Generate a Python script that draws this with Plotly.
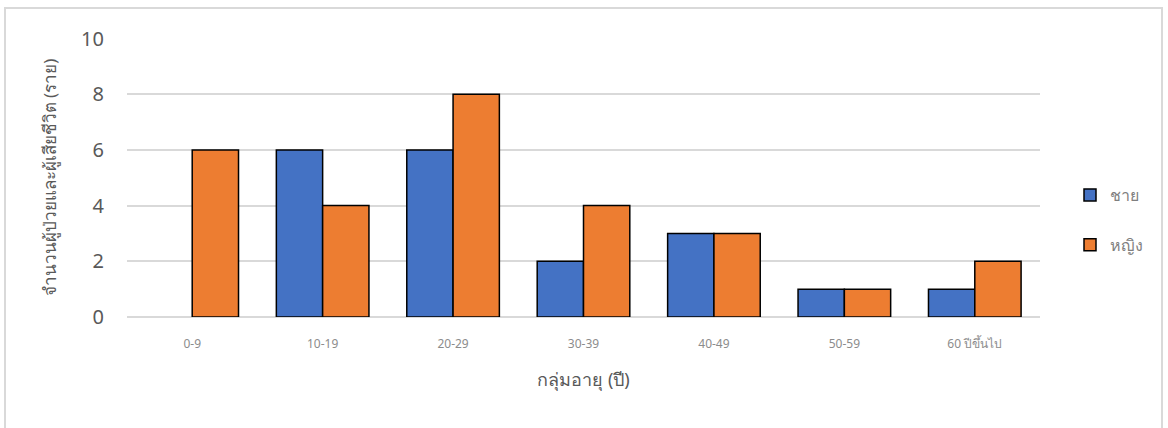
import plotly.graph_objects as go

categories = ["0-9", "10-19", "20-29", "30-39", "40-49", "50-59", "60 ปีขึ้นไป"]
male = [None, 6, 6, 2, 3, 1, 1]
female = [6, 4, 8, 4, 3, 1, 2]
series_names = ["ชาย", "หญิง"]
y_ticks = [0, 2, 4, 6, 8, 10]

FONT = "Noto Sans, Tahoma, sans-serif"
L, R, T, B = 127, 128, 38, 111
W, H = 1168, 428
pw, ph = W - L - R, H - T - B

fig = go.Figure()
fig.add_trace(go.Bar(x=categories, y=male, name=series_names[0],
                     marker=dict(color="#4472C4", line=dict(color="black", width=1.5)),
                     legendgroup="a"))
fig.add_trace(go.Bar(x=categories, y=female, name=series_names[1],
                     marker=dict(color="#ED7D31", line=dict(color="black", width=1.5)),
                     legendgroup="b"))

def px_x(p):
    return (p - L) / pw

def px_y(p):
    return (H - B - p) / ph

fig.add_shape(type="rect", xref="paper", yref="paper",
              x0=px_x(5), x1=px_x(1162), y0=px_y(440), y1=px_y(8),
              line=dict(color="#d9d9d9", width=2), fillcolor="rgba(0,0,0,0)", layer="below")

fig.update_layout(
    width=W, height=H,
    margin=dict(l=L, r=R, t=T, b=B, autoexpand=False),
    paper_bgcolor="white", plot_bgcolor="white",
    barmode="group", bargap=0.29, bargroupgap=0,
    font=dict(family=FONT),
    showlegend=True,
    legend=dict(x=px_x(1070), y=px_y(178), xanchor="left", yanchor="top",
                font=dict(size=16, color="#7f7f7f"), tracegroupgap=26,
                itemwidth=30),
    xaxis=dict(showgrid=False, showline=False, ticks="",
               ticklabelstandoff=18,
               tickfont=dict(size=12, color="#8c8c8c"),
               title=dict(text="กลุ่มอายุ (ปี)", font=dict(size=18, color="#595959"), standoff=22)),
    yaxis=dict(range=[0, 10.02], tickvals=y_ticks, showgrid=True, gridcolor="#d9d9d9", gridwidth=1.5,
               zeroline=True, zerolinecolor="#d9d9d9", zerolinewidth=1.5,
               showline=False, ticks="", ticklabelstandoff=22,
               tickfont=dict(size=20, color="#595959"),
               title=dict(text="จำนวนผู้ป่วยและผู้เสียชีวิต (ราย)", font=dict(size=17, color="#595959"), standoff=20)),
)

fig.write_html("out.html", config={"displayModeBar": False},
               post_script="document.body.style.margin='0';document.body.style.padding='0';document.body.style.overflow='hidden';")
